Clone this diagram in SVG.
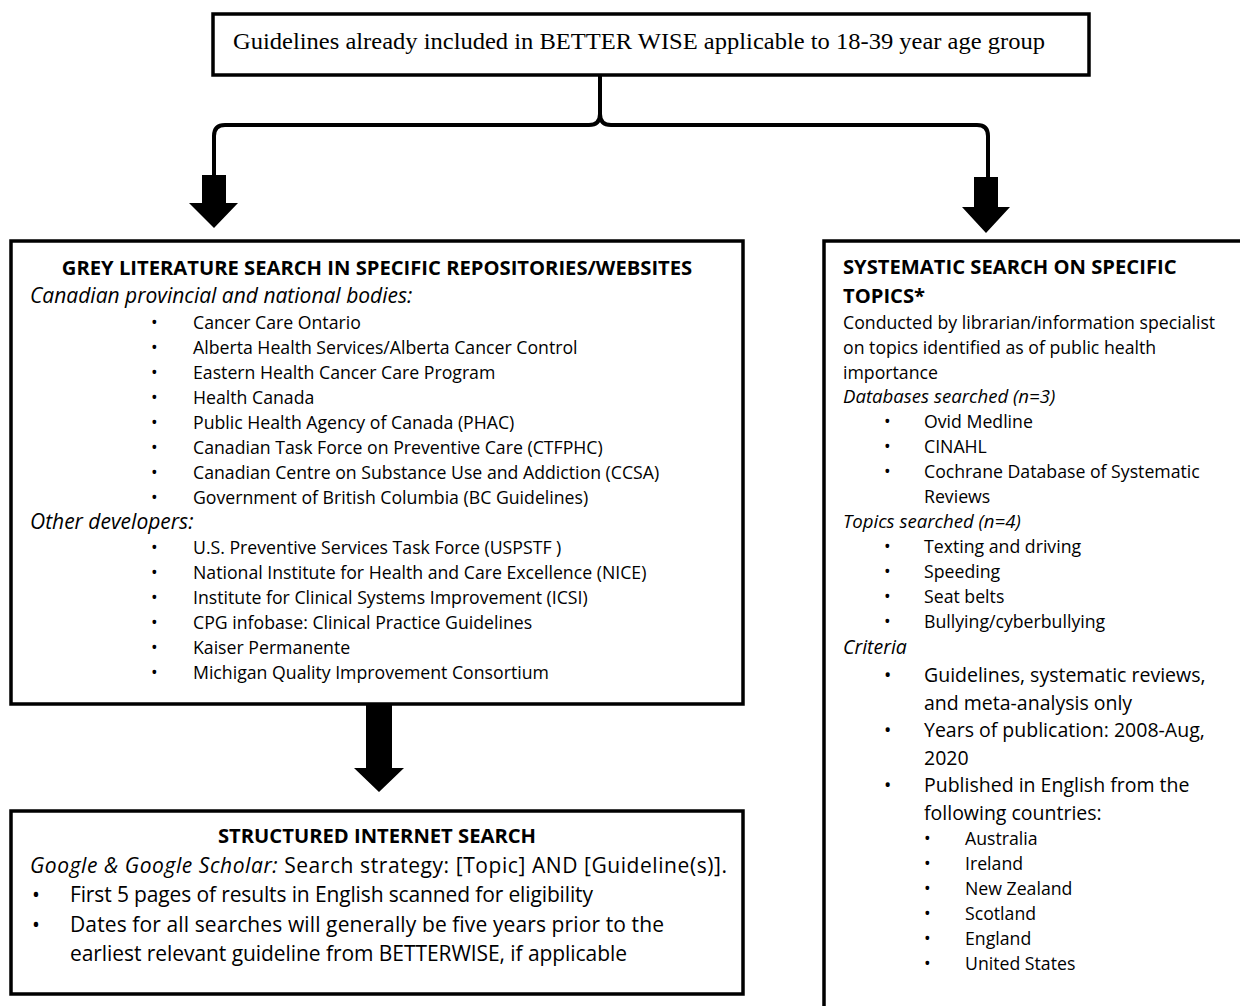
<svg xmlns="http://www.w3.org/2000/svg" width="1240" height="1006" viewBox="0 0 1240 1006">
<style>
.box{fill:#fff;stroke:#000;stroke-width:3.5}
.t{font-family:"Open Sans","Liberation Sans",sans-serif;font-size:17.7px;fill:#000}
.tl{font-family:"Open Sans","Liberation Sans",sans-serif;font-size:19.5px;fill:#000}
.ts{font-family:"Open Sans","Liberation Sans",sans-serif;font-size:21px;fill:#000}
.hd{font-family:"Open Sans","Liberation Sans",sans-serif;font-size:20.2px;font-weight:bold;fill:#000}
.it{font-family:"Open Sans","Liberation Sans",sans-serif;font-size:21px;font-style:italic;fill:#000}
.it2{font-family:"Open Sans","Liberation Sans",sans-serif;font-size:18.6px;font-style:italic;fill:#000}
.i{font-style:italic}
.mid{text-anchor:middle}
.serif{font-family:"Liberation Serif","DejaVu Serif",serif;font-size:22.5px;fill:#000}
.line{fill:none;stroke:#000;stroke-width:4;stroke-linecap:butt}
.head{fill:#000}
</style>
<rect width="1240" height="1006" fill="#fff"/>
<g id="connectors">
<path class="line" d="M600,76 V114 Q600,125 589,125 H225 Q214,125 214,136 V177"/>
<path class="line" d="M600,114 Q600,125 611,125 H977 Q988,125 988,136 V178"/>
<path class="head" d="M202,175 H226 V203 H238 L214,228 L189,203 H202 Z"/>
<path class="head" d="M974,177 H998 V207 H1010 L986,233 L962,207 H974 Z"/>
<path class="head" d="M366,705 H392 V768 H404 L379,792 L354,768 H366 Z"/>
</g>
<g id="top">
<rect class="box" x="213" y="14" width="876" height="61"/>
<text class="serif" x="233" y="49" textLength="812" lengthAdjust="spacingAndGlyphs">Guidelines already included in BETTER WISE applicable to 18-39 year age group</text>
</g>
<g id="grey">
<rect class="box" x="11" y="241" width="732" height="463"/>
<text class="hd mid" x="377" y="275">GREY LITERATURE SEARCH IN SPECIFIC REPOSITORIES/WEBSITES</text>
<text class="it" x="30" y="303">Canadian provincial and national bodies:</text>
<g class="t">
<text x="151" y="329">•</text><text x="193" y="329">Cancer Care Ontario</text>
<text x="151" y="354">•</text><text x="193" y="354">Alberta Health Services/Alberta Cancer Control</text>
<text x="151" y="379">•</text><text x="193" y="379">Eastern Health Cancer Care Program</text>
<text x="151" y="404">•</text><text x="193" y="404">Health Canada</text>
<text x="151" y="429">•</text><text x="193" y="429">Public Health Agency of Canada (PHAC)</text>
<text x="151" y="454">•</text><text x="193" y="454">Canadian Task Force on Preventive Care (CTFPHC)</text>
<text x="151" y="479">•</text><text x="193" y="479">Canadian Centre on Substance Use and Addiction (CCSA)</text>
<text x="151" y="504">•</text><text x="193" y="504">Government of British Columbia (BC Guidelines)</text>
</g>
<text class="it" x="30" y="529">Other developers:</text>
<g class="t">
<text x="151" y="554">•</text><text x="193" y="554">U.S. Preventive Services Task Force (USPSTF )</text>
<text x="151" y="579">•</text><text x="193" y="579">National Institute for Health and Care Excellence (NICE)</text>
<text x="151" y="604">•</text><text x="193" y="604">Institute for Clinical Systems Improvement (ICSI)</text>
<text x="151" y="629">•</text><text x="193" y="629">CPG infobase: Clinical Practice Guidelines</text>
<text x="151" y="654">•</text><text x="193" y="654">Kaiser Permanente</text>
<text x="151" y="679">•</text><text x="193" y="679">Michigan Quality Improvement Consortium</text>
</g>
</g>
<g id="structured">
<rect class="box" x="11" y="811" width="732" height="183"/>
<text class="hd mid" x="377" y="843">STRUCTURED INTERNET SEARCH</text>
<text class="ts" x="30" y="873" textLength="697"><tspan class="i">Google &amp; Google Scholar:</tspan> Search strategy: [Topic] AND [Guideline(s)].</text>
<text class="ts" x="32" y="902">•</text><text class="ts" x="70" y="902" textLength="523">First 5 pages of results in English scanned for eligibility</text>
<text class="ts" x="32" y="932">•</text><text class="ts" x="70" y="932" textLength="594">Dates for all searches will generally be five years prior to the</text>
<text class="ts" x="70" y="961" textLength="557">earliest relevant guideline from BETTERWISE, if applicable</text>
</g>
<g id="systematic">
<rect class="box" x="824" y="241" width="430" height="790"/>
<text class="hd" x="843" y="274">SYSTEMATIC SEARCH ON SPECIFIC</text>
<text class="hd" x="843" y="303">TOPICS*</text>
<g class="t">
<text x="843" y="329">Conducted by librarian/information specialist</text>
<text x="843" y="354">on topics identified as of public health</text>
<text x="843" y="379">importance</text>
</g>
<text class="it2" x="843" y="403">Databases searched (n=3)</text>
<g class="t">
<text x="884" y="428">•</text><text x="924" y="428">Ovid Medline</text>
<text x="884" y="453">•</text><text x="924" y="453">CINAHL</text>
<text x="884" y="478">•</text><text x="924" y="478">Cochrane Database of Systematic</text>
<text x="924" y="503">Reviews</text>
</g>
<text class="it2" x="843" y="528">Topics searched (n=4)</text>
<g class="t">
<text x="884" y="553">•</text><text x="924" y="553">Texting and driving</text>
<text x="884" y="578">•</text><text x="924" y="578">Speeding</text>
<text x="884" y="603">•</text><text x="924" y="603">Seat belts</text>
<text x="884" y="628">•</text><text x="924" y="628">Bullying/cyberbullying</text>
</g>
<g class="tl">
<text class="i" x="843" y="654">Criteria</text>
<text x="884" y="682">•</text><text x="924" y="682">Guidelines, systematic reviews,</text>
<text x="924" y="710">and meta-analysis only</text>
<text x="884" y="737">•</text><text x="924" y="737">Years of publication: 2008-Aug,</text>
<text x="924" y="765">2020</text>
<text x="884" y="792">•</text><text x="924" y="792">Published in English from the</text>
<text x="924" y="820">following countries:</text>
</g>
<g class="t">
<text x="924" y="845">•</text><text x="965" y="845">Australia</text>
<text x="924" y="870">•</text><text x="965" y="870">Ireland</text>
<text x="924" y="895">•</text><text x="965" y="895">New Zealand</text>
<text x="924" y="920">•</text><text x="965" y="920">Scotland</text>
<text x="924" y="945">•</text><text x="965" y="945">England</text>
<text x="924" y="970">•</text><text x="965" y="970">United States</text>
</g>
</g>
</svg>
